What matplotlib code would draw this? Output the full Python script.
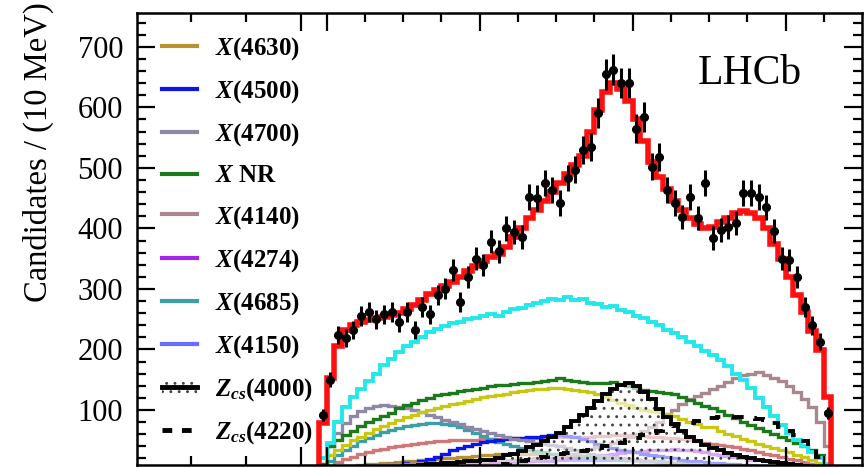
import numpy as np
import matplotlib
matplotlib.use("Agg")
import matplotlib.pyplot as plt
from matplotlib.lines import Line2D
from matplotlib.patches import Patch

plt.rcParams['font.family'] = ['Liberation Serif', 'DejaVu Serif']
plt.rcParams['mathtext.fontset'] = 'custom'
plt.rcParams['mathtext.rm'] = 'Liberation Serif:bold'
plt.rcParams['mathtext.it'] = 'Liberation Serif:bold:italic'
plt.rcParams['mathtext.bf'] = 'Liberation Serif:bold'
plt.rcParams['hatch.linewidth'] = 0.9

# m(J/psi K+) binning, 10 MeV bins from 3.59 GeV
edges = np.round(np.arange(3.59, 4.2651, 0.01), 3)
centers = 0.5 * (edges[:-1] + edges[1:])

data = [92, 150, 224, 219, 232, 255, 262, 250, 258, 262,
        245, 262, 232, 270, 258, 290, 300, 331, 279, 320,
        350, 340, 378, 362, 400, 394, 386, 452, 450, 475,
        464, 442, 483, 497, 530, 535, 591, 655, 662, 640,
        640, 565, 584, 502, 518, 464, 442, 419, 452, 417,
        475, 384, 397, 402, 409, 458, 458, 452, 435, 395,
        350, 348, 320, 270, 240, 213, 95]

total_fit = [78, 152, 205, 232, 240, 246, 249, 252, 254, 257,
             260, 266, 274, 282, 292, 298, 305, 312, 320, 330,
             338, 346, 352, 358, 370, 385, 400, 418, 430, 445,
             460, 475, 490, 505, 520, 560, 595, 625, 640, 630,
             610, 580, 545, 510, 485, 465, 445, 430, 418, 408,
             400, 402, 410, 418, 425, 428, 425, 418, 400, 375,
             350, 320, 290, 262, 230, 199, 121]

cyan_comp = [20, 45, 80, 105, 122, 135, 148, 160, 175, 185,
             195, 205, 213, 220, 228, 233, 238, 243, 246, 250,
             252, 255, 258, 256, 262, 266, 268, 274, 276, 280,
             283, 281, 286, 282, 283, 276, 275, 270, 271, 265,
             262, 255, 252, 245, 240, 232, 227, 220, 213, 205,
             198, 190, 182, 172, 160, 150, 137, 120, 105, 90,
             75, 62, 50, 40, 30, 20, 10]

yellow_comp = [8, 25, 33, 42, 50, 56, 62, 68, 73, 78,
               83, 88, 92, 96, 100, 103, 106, 109, 112, 115,
               118, 121, 123, 125, 127, 129, 131, 133, 134, 135,
               136, 136, 135, 133, 131, 129, 126, 122, 117, 112,
               108, 104, 100, 98, 96, 94, 90, 85, 80, 76,
               72, 71, 66, 61, 57, 52, 48, 44, 40, 37,
               34, 30, 26, 22, 17, 12, 5]

rosy_comp = [3, 8, 14, 19, 23, 27, 30, 33, 36, 38,
             40, 42, 44, 46, 47, 48, 49, 50, 50, 51,
             51, 52, 52, 52, 53, 53, 53, 54, 54, 54,
             55, 55, 55, 56, 56, 56, 57, 57, 58, 58,
             58, 57, 57, 56, 55, 54, 53, 52, 50, 48,
             46, 44, 42, 40, 38, 35, 33, 30, 28, 25,
             22, 19, 17, 14, 11, 8, 4]

x4630 = [2, 4, 6, 7, 8, 9, 10, 11, 12, 13,
         14, 15, 16, 17, 18, 19, 20, 21, 22, 23,
         24, 25, 26, 27, 27, 28, 28, 28, 28, 27,
         27, 26, 26, 25, 24, 23, 22, 21, 20, 19,
         18, 17, 16, 15, 14, 13, 12, 11, 11, 10,
         9, 9, 8, 8, 7, 7, 6, 6, 5, 5,
         4, 4, 3, 3, 2, 2, 1]

x4500 = [1, 2, 3, 4, 5, 6, 7, 8, 9, 10,
         11, 12, 13, 15, 19, 23, 28, 33, 37, 41,
         44, 47, 49, 50, 52, 53, 54, 55, 56, 57,
         58, 58, 57, 55, 52, 48, 44, 40, 37, 34,
         32, 30, 28, 26, 24, 22, 20, 18, 16, 15,
         14, 13, 12, 11, 10, 9, 9, 8, 7, 7,
         6, 5, 5, 4, 4, 3, 2]

x4700 = [10, 40, 62, 78, 90, 98, 103, 107, 108, 107,
         105, 103, 100, 96, 92, 88, 84, 80, 76, 72,
         68, 65, 62, 58, 55, 52, 50, 48, 46, 44,
         42, 40, 37, 34, 31, 28, 26, 24, 22, 20,
         18, 17, 16, 15, 14, 13, 12, 11, 10, 10,
         9, 9, 8, 8, 7, 7, 6, 6, 5, 5,
         5, 4, 4, 4, 3, 3, 2]

x_nr = [10, 40, 50, 58, 66, 74, 80, 85, 90, 95,
        104, 108, 112, 116, 120, 124, 126, 128, 131, 133,
        135, 137, 139, 141, 141, 143, 144, 145, 146, 148,
        150, 152, 150, 148, 146, 145, 145, 144, 146, 143,
        139, 136, 133, 131, 129, 128, 126, 122, 117, 112,
        107, 104, 98, 92, 86, 80, 75, 70, 65, 60,
        55, 50, 45, 40, 34, 26, 10]

x4140 = [2, 3, 4, 5, 6, 7, 8, 9, 10, 10,
         11, 11, 12, 12, 13, 13, 14, 14, 15, 15,
         16, 16, 17, 17, 18, 18, 19, 19, 20, 20,
         21, 23, 25, 27, 30, 35, 38, 42, 46, 50,
         55, 60, 65, 72, 80, 90, 100, 110, 118, 123,
         128, 134, 140, 146, 152, 157, 160, 162, 158, 152,
         148, 140, 130, 118, 105, 80, 40]

x4274 = [2, 2, 3, 3, 4, 4, 5, 5, 6, 6,
         7, 7, 8, 8, 9, 9, 10, 10, 11, 11,
         12, 12, 13, 14, 14, 15, 16, 16, 17, 18,
         18, 19, 20, 21, 22, 23, 24, 26, 27, 29,
         30, 31, 32, 33, 34, 34, 35, 34, 33, 32,
         30, 28, 26, 24, 22, 20, 18, 17, 15, 14,
         13, 11, 10, 8, 6, 4, 2]

x4685 = [5, 15, 25, 34, 41, 48, 54, 59, 63, 67,
         70, 73, 75, 77, 78, 78, 77, 75, 71, 67,
         62, 57, 52, 47, 43, 40, 37, 34, 32, 30,
         28, 27, 26, 25, 24, 23, 22, 21, 20, 19,
         18, 17, 16, 15, 15, 14, 13, 13, 12, 12,
         11, 11, 10, 10, 9, 9, 8, 8, 7, 7,
         6, 6, 5, 5, 4, 3, 2]

x4150 = [1, 2, 2, 3, 3, 4, 4, 5, 5, 6,
         6, 7, 7, 8, 8, 9, 9, 10, 10, 11,
         11, 12, 12, 13, 13, 14, 14, 15, 15, 16,
         16, 17, 17, 17, 18, 18, 18, 18, 18, 18,
         17, 17, 16, 16, 15, 14, 13, 12, 11, 10,
         9, 9, 8, 8, 7, 7, 6, 6, 5, 5,
         4, 4, 3, 3, 2, 2, 1]

zcs4000 = [1, 2, 2, 3, 3, 4, 4, 5, 5, 6,
           6, 7, 8, 9, 10, 11, 12, 13, 14, 15,
           16, 17, 18, 20, 25, 28, 32, 38, 42, 48,
           55, 62, 72, 82, 92, 103, 115, 126, 135, 142,
           145, 140, 130, 118, 102, 88, 76, 65, 56, 48,
           42, 37, 33, 29, 26, 23, 20, 18, 16, 14,
           12, 10, 9, 8, 6, 4, 2]

zcs4220 = [0, 0, 0, 0, 0, 1, 1, 1, 1, 1,
           1, 2, 2, 2, 2, 3, 3, 3, 4, 4,
           5, 5, 6, 8, 10, 12, 15, 17, 20, 22,
           25, 27, 29, 30, 32, 34, 37, 40, 42, 46,
           50, 54, 58, 62, 66, 70, 73, 76, 79, 82,
           84, 86, 88, 89, 89, 88, 87, 85, 83, 78,
           72, 66, 58, 48, 36, 22, 6]

legend_labels = [r'$X$(4630)', r'$X$(4500)', r'$X$(4700)', r'$X$ NR',
                 r'$X$(4140)', r'$X$(4274)', r'$X$(4685)', r'$X$(4150)',
                 r'$Z_{cs}$(4000)', r'$Z_{cs}$(4220)']
legend_colors = ['#b8922c', '#0a14f0', '#8e88a6', '#1c7a1c', '#a8888e',
                 '#a424e8', '#3c9ea6', '#6c6cff']

fig = plt.figure(figsize=(8.67, 4.68), dpi=100)
ax = fig.add_axes([137 / 867, 3 / 468, 725 / 867, 452 / 468])

lw = 2.4
ax.stairs(rosy_comp, edges, color='#d07878', lw=lw)
ax.stairs(x4150, edges, color=legend_colors[7], lw=lw)
ax.stairs(x4274, edges, color=legend_colors[5], lw=lw)
ax.stairs(x4630, edges, color=legend_colors[0], lw=lw)
ax.stairs(x4685, edges, color=legend_colors[6], lw=lw)
ax.stairs(x4500, edges, color=legend_colors[1], lw=lw)
ax.stairs(x4700, edges, color=legend_colors[2], lw=lw)
ax.stairs(x4140, edges, color=legend_colors[4], lw=lw)
ax.stairs(yellow_comp, edges, color='#c8c814', lw=lw)
ax.stairs(x_nr, edges, color=legend_colors[3], lw=lw)
ax.stairs(cyan_comp, edges, color='#22e8ea', lw=lw + 0.4)

ax.stairs(zcs4000, edges, fill=True, facecolor='white', alpha=0.6, lw=0)
ax.stairs(zcs4000, edges, fill=True, facecolor='none', edgecolor='#444444',
          hatch='..', lw=0)
ax.stairs(zcs4000, edges, color='black', lw=lw + 0.4)
ax.stairs(zcs4220, edges, color='black', lw=lw + 0.4, linestyle=(0, (3, 3)))

ax.stairs(total_fit, edges, color='#ff1010', lw=4)

data = np.array(data, dtype=float)
ax.errorbar(centers, data, yerr=np.sqrt(data), xerr=0.005, fmt='o',
            color='black', ms=5.5, elinewidth=2.2, capsize=0, zorder=5)

# legend
handles = [Line2D([], [], color=c, lw=3) for c in legend_colors]
handles.append((Patch(facecolor='white', edgecolor='#444444', hatch='..', lw=0),
                Line2D([], [], color='black', lw=3.5)))
handles.append(Line2D([], [], color='black', lw=3.5, linestyle=(0, (2, 2))))
leg = ax.legend(handles, legend_labels, loc='upper left',
                bbox_to_anchor=(0.02, 0.973), frameon=False,
                prop={'family': 'Liberation Serif', 'weight': 'bold', 'size': 18},
                handlelength=1.4, handletextpad=0.75, labelspacing=0.65,
                borderaxespad=0)

ax.text(0.845, 0.865, 'LHCb', transform=ax.transAxes, fontsize=30,
        ha='center', va='center')

ax.set_xlim(3.352, 4.300)
ax.set_ylim(9, 756)
ax.set_xticks([3.567, 3.6, 3.8, 4.0, 4.2])
ax.set_xticks([3.422, 3.495, 3.65, 3.7, 3.75, 3.85, 3.9, 3.95,
               4.05, 4.1, 4.15, 4.25], minor=True)
ax.set_xticklabels([])
ax.set_yticks([100, 200, 300, 400, 500, 600, 700])
ax.set_yticks(np.arange(20, 760, 20), minor=True)
ax.tick_params(which='both', direction='in', top=True, right=True,
               labelsize=22, width=1.6, pad=10)
ax.tick_params(which='major', length=13)
ax.tick_params(which='minor', length=6.5)
for s in ax.spines.values():
    s.set_linewidth(1.8)

fig.text(38 / 867, 1 - 152 / 468, 'Candidates / (10 MeV)', rotation=90,
         fontsize=23.5, ha='center', va='center')

fig.savefig('out.png', dpi=100)
